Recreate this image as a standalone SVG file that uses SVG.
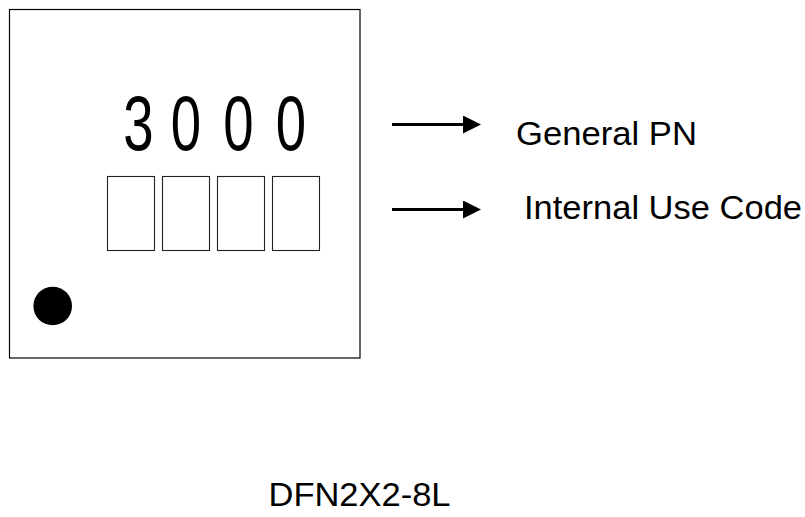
<svg xmlns="http://www.w3.org/2000/svg" width="805" height="517" viewBox="0 0 805 517">
  <style>
    .outline { fill: #ffffff; stroke: #000000; stroke-width: 1.2; }
    .cell { fill: #ffffff; stroke: #222222; stroke-width: 1.1; }
    .digit { font-family: "Liberation Sans", Arial, sans-serif; font-size: 78px; fill: #000000; text-anchor: middle; }
    .label { font-family: "Liberation Sans", Arial, sans-serif; font-size: 33px; fill: #000000; }
    .lead { stroke: #000000; stroke-width: 3; fill: none; }
  </style>
  <defs>
    <marker id="head" markerWidth="6" markerHeight="6" refX="0" refY="3" orient="auto" markerUnits="strokeWidth">
      <path d="M0,0 L6,3 L0,6 Z" fill="#000000"/>
    </marker>
  </defs>
  <rect width="805" height="517" fill="#ffffff"/>

  <!-- package body with marking -->
  <g id="package">
    <rect class="outline" x="9.5" y="9.5" width="350.5" height="348.5"/>
    <g id="part-number">
      <text class="digit" transform="translate(138.5,150) scale(0.7,1)">3</text>
      <text class="digit" transform="translate(186,150) scale(0.7,1)">0</text>
      <text class="digit" transform="translate(238.5,150) scale(0.7,1)">0</text>
      <text class="digit" transform="translate(291,150) scale(0.7,1)">0</text>
    </g>
    <g id="code-cells">
      <rect class="cell" x="107.5" y="176.5" width="47" height="74"/>
      <rect class="cell" x="162.5" y="176.5" width="47" height="74"/>
      <rect class="cell" x="217.5" y="176.5" width="47" height="74"/>
      <rect class="cell" x="272.5" y="176.5" width="47" height="74"/>
    </g>
    <circle id="pin1-dot" cx="52.7" cy="306" r="19.3" fill="#000000"/>
  </g>

  <!-- leader arrows -->
  <g id="connectors">
    <line class="lead" x1="392" y1="124.5" x2="463" y2="124.5" marker-end="url(#head)"/>
    <line class="lead" x1="392" y1="209.5" x2="463" y2="209.5" marker-end="url(#head)"/>
  </g>

  <g id="label-general-pn">
    <text class="label" x="516" y="144.5" textLength="181" lengthAdjust="spacingAndGlyphs">General PN</text>
  </g>
  <g id="label-internal-code">
    <text class="label" x="524" y="219" textLength="278" lengthAdjust="spacingAndGlyphs">Internal Use Code</text>
  </g>
  <g id="package-name">
    <text class="label" x="268.5" y="506" textLength="182" lengthAdjust="spacingAndGlyphs">DFN2X2-8L</text>
  </g>
</svg>
